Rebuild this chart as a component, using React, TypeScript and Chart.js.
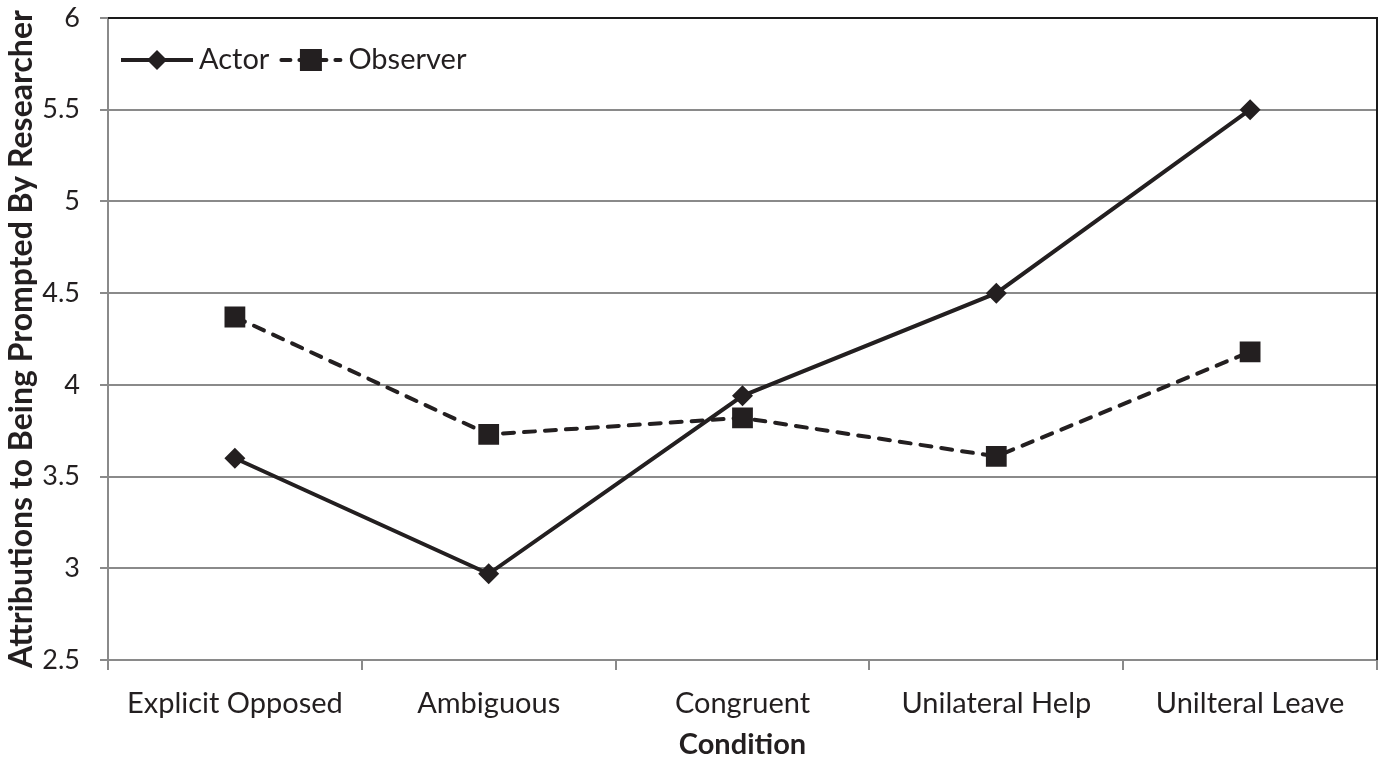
import React, { useEffect, useRef } from "react";
import { Chart, registerables } from "chart.js";

Chart.register(...registerables);

const categories = ["Explicit Opposed", "Ambiguous", "Congruent", "Unilateral Help", "Unilteral Leave"];
const actorValues = [3.6, 2.97, 3.94, 4.5, 5.5];
const observerValues = [4.37, 3.73, 3.82, 3.61, 4.18];
const yMin = 2.5;
const yMax = 6;
const yStep = 0.5;
const xTitle = "Condition";
const yTitle = "Attributions to Being Prompted By Researcher";

const FONT = "Lato, 'Open Sans', sans-serif";
const INK = "#231f20";

const frameAndLegend = {
  id: "frameAndLegend",
  beforeDatasetsDraw(chart: any) {
    const { ctx, chartArea } = chart;
    ctx.save();
    ctx.strokeStyle = "#1a1a1a";
    ctx.lineWidth = 2;
    ctx.beginPath();
    ctx.moveTo(chartArea.left, chartArea.top);
    ctx.lineTo(chartArea.right, chartArea.top);
    ctx.lineTo(chartArea.right, chartArea.bottom);
    ctx.stroke();
    ctx.restore();
  },
  afterDraw(chart: any) {
    const { ctx, chartArea } = chart;
    const y = chartArea.top + 42;
    let x = chartArea.left + 13;
    ctx.save();
    ctx.font = `29px ${FONT}`;
    ctx.textBaseline = "middle";
    ctx.fillStyle = INK;
    chart.data.datasets.forEach((ds: any, i: number) => {
      const lineLen = i === 0 ? 72 : 63;
      ctx.strokeStyle = ds.borderColor;
      ctx.lineWidth = ds.borderWidth;
      ctx.setLineDash(i === 0 ? [] : [9, 9]);
      ctx.beginPath();
      if (i === 0) {
        ctx.lineCap = "butt";
        ctx.moveTo(x, y);
        ctx.lineTo(x + lineLen, y);
      } else {
        ctx.lineCap = "round";
        ctx.moveTo(x + 2, y);
        ctx.lineTo(x + lineLen - 2, y);
      }
      ctx.stroke();
      ctx.setLineDash([]);
      const cx = x + lineLen / 2;
      ctx.fillStyle = ds.pointBackgroundColor;
      ctx.beginPath();
      if (ds.pointStyle === "rectRot") {
        const r = 10;
        ctx.moveTo(cx, y - r);
        ctx.lineTo(cx + r, y);
        ctx.lineTo(cx, y + r);
        ctx.lineTo(cx - r, y);
        ctx.closePath();
      } else {
        const h = 11;
        ctx.rect(cx - h, y - h, 2 * h, 2 * h);
      }
      ctx.fill();
      x += lineLen + 6;
      ctx.fillStyle = INK;
      ctx.fillText(ds.label, x, y);
      x += ctx.measureText(ds.label).width + 10;
    });
    ctx.restore();
  },
};

function zeroPadding(scale: any) {
  scale.paddingTop = 0;
  scale.paddingBottom = 0;
  scale.paddingLeft = 0;
  scale.paddingRight = 0;
}

export default function App() {
  const canvasRef = useRef<HTMLCanvasElement | null>(null);

  useEffect(() => {
    if (!canvasRef.current) return;
    const chart = new Chart(canvasRef.current, {
      type: "line",
      data: {
        labels: categories,
        datasets: [
          {
            label: "Actor",
            data: actorValues,
            borderColor: INK,
            backgroundColor: INK,
            pointBackgroundColor: INK,
            pointBorderColor: INK,
            borderWidth: 4,
            pointStyle: "rectRot",
            pointRadius: 10.5,
            pointBorderWidth: 0,
            tension: 0,
          },
          {
            label: "Observer",
            data: observerValues,
            borderColor: INK,
            backgroundColor: INK,
            pointBackgroundColor: INK,
            pointBorderColor: INK,
            borderWidth: 4,
            borderDash: [11, 10],
            borderCapStyle: "round",
            pointStyle: "rect",
            pointRadius: 14.7,
            pointBorderWidth: 0,
            tension: 0,
          },
        ],
      },
      options: {
        animation: false,
        responsive: true,
        maintainAspectRatio: false,
        layout: { autoPadding: false, padding: { top: 18, right: 1, left: 0, bottom: 0 } },
        plugins: { legend: { display: false }, tooltip: { enabled: false } },
        scales: {
          x: {
            offset: true,
            grid: {
              offset: true,
              drawOnChartArea: false,
              drawTicks: true,
              tickLength: 10,
              color: "#8a8a8a",
              lineWidth: 2,
            },
            border: { color: "#8a8a8a", width: 2 },
            ticks: {
              color: INK,
              font: { family: FONT, size: 29 },
              padding: 16,
              maxRotation: 0,
              autoSkip: false,
            },
            title: {
              display: true,
              text: xTitle,
              color: INK,
              font: { family: FONT, size: 29, weight: "bold" },
              padding: { top: 0, bottom: 3 },
            },
            afterFit(scale: any) {
              scale.height = 105;
              zeroPadding(scale);
            },
          },
          y: {
            min: yMin,
            max: yMax,
            ticks: {
              stepSize: yStep,
              color: INK,
              font: { family: FONT, size: 27 },
              padding: 20,
              callback: (v: any) => String(Number(v)),
            },
            grid: {
              color: "#8a8a8a",
              lineWidth: 2,
              tickLength: 8,
            },
            border: { color: "#8a8a8a", width: 2 },
            title: {
              display: true,
              text: yTitle,
              color: INK,
              font: { family: FONT, size: 32, weight: "bold" },
              padding: { top: 2, bottom: 0 },
            },
            afterFit(scale: any) {
              scale.width = 108;
              zeroPadding(scale);
            },
          },
        },
      },
      plugins: [frameAndLegend],
    } as any);
    return () => chart.destroy();
  }, []);

  return (
    <div style={{ position: "fixed", left: 0, top: 0, width: 1378, height: 765, background: "#fff", overflow: "hidden" }}>
      <canvas ref={canvasRef} style={{ display: "block" }} />
    </div>
  );
}
